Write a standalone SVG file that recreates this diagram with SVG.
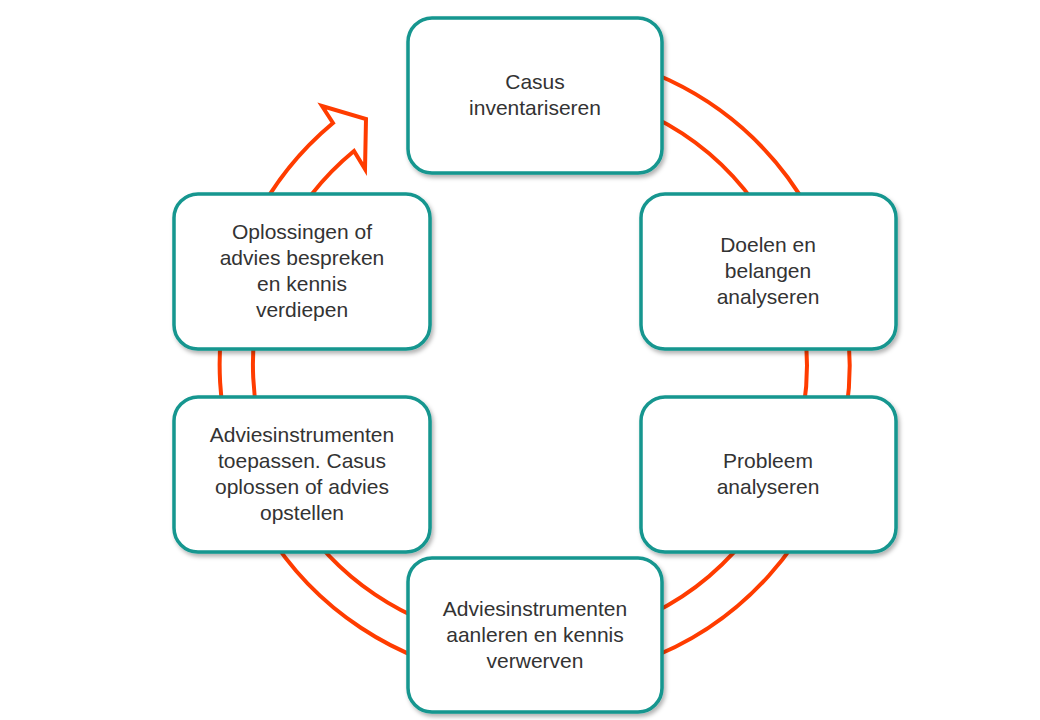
<svg xmlns="http://www.w3.org/2000/svg" width="1040" height="720" viewBox="0 0 1040 720">
<defs>
<style>
.b{fill:#fff;stroke:#14968f;stroke-width:3.5}
.t{font-family:"Liberation Sans",Arial,sans-serif;font-size:21px;fill:#333;text-anchor:middle}
</style>
<filter id="s" x="-10%" y="-10%" width="125%" height="125%"><feDropShadow dx="2" dy="3" stdDeviation="2" flood-opacity="0.3"/></filter>
</defs>
<rect width="1040" height="720" fill="#fff"/>
<g id="connectors">
<path d="M333,123 L322,106 L366,119 L365,169 L354,151 A277,277 0 1 0 535,88 L535,50 A315,315 0 1 1 333,123 Z" fill="#fff" stroke="#ff3c00" stroke-width="4" stroke-linejoin="miter"/>
</g>
<g id="n1"><rect class="b" filter="url(#s)" x="408" y="18" width="254" height="155" rx="24"/><text class="t" x="535" y="89">Casus</text><text class="t" x="535" y="115">inventariseren</text></g>
<g id="n2"><rect class="b" filter="url(#s)" x="641" y="194" width="255" height="155" rx="24"/><text class="t" x="768" y="252">Doelen en</text><text class="t" x="768" y="278">belangen</text><text class="t" x="768" y="304">analyseren</text></g>
<g id="n3"><rect class="b" filter="url(#s)" x="641" y="397" width="255" height="155" rx="24"/><text class="t" x="768" y="468">Probleem</text><text class="t" x="768" y="494">analyseren</text></g>
<g id="n4"><rect class="b" filter="url(#s)" x="408" y="558" width="254" height="154" rx="24"/><text class="t" x="535" y="616">Adviesinstrumenten</text><text class="t" x="535" y="642">aanleren en kennis</text><text class="t" x="535" y="668">verwerven</text></g>
<g id="n5"><rect class="b" filter="url(#s)" x="174" y="397" width="256" height="155" rx="24"/><text class="t" x="302" y="442">Adviesinstrumenten</text><text class="t" x="302" y="468">toepassen. Casus</text><text class="t" x="302" y="494">oplossen of advies</text><text class="t" x="302" y="520">opstellen</text></g>
<g id="n6"><rect class="b" filter="url(#s)" x="174" y="194" width="256" height="155" rx="24"/><text class="t" x="302" y="239">Oplossingen of</text><text class="t" x="302" y="265">advies bespreken</text><text class="t" x="302" y="291">en kennis</text><text class="t" x="302" y="317">verdiepen</text></g>
</svg>
